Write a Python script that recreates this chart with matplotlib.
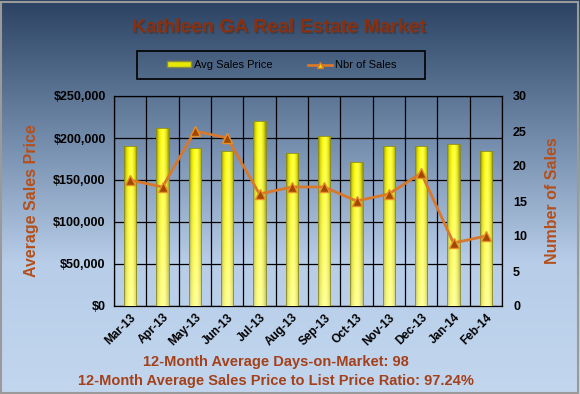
import numpy as np
import matplotlib
matplotlib.use("Agg")
import matplotlib.pyplot as plt
from matplotlib.colors import LinearSegmentedColormap
import matplotlib.patheffects as pe
from matplotlib.patches import Patch, Rectangle
from matplotlib.lines import Line2D

plt.rcParams['font.family'] = ['Liberation Sans', 'DejaVu Sans']

months = ["Mar-13", "Apr-13", "May-13", "Jun-13", "Jul-13", "Aug-13",
          "Sep-13", "Oct-13", "Nov-13", "Dec-13", "Jan-14", "Feb-14"]
avg_price = [190000, 211500, 188000, 185000, 220500, 182500,
             202500, 171000, 190500, 190000, 193000, 185000]
nbr_sales = [18, 17, 25, 24, 16, 17, 17, 15, 16, 19, 9, 10]
price_ticks = [0, 50000, 100000, 150000, 200000, 250000]
sales_ticks = [0, 5, 10, 15, 20, 25, 30]

title_color = "#8a3010"
label_color = "#b4501c"
text_color = "#a4401a"

W, H = 580, 394
fig = plt.figure(figsize=(5.8, 3.94), dpi=100)

# background gradient
bg = fig.add_axes([0, 0, 1, 1], zorder=0)
bg_cmap = LinearSegmentedColormap.from_list("bg", ["#2b4262", "#6f88a8", "#b7cde8", "#c2d6ee"])
grad = np.linspace(0, 1, 256).reshape(-1, 1)
bg.imshow(grad, aspect="auto", cmap=bg_cmap, extent=[0, 1, 0, 1], origin="upper")
bg.set_xlim(0, 1); bg.set_ylim(0, 1)
bg.axis("off")
bg.add_patch(Rectangle((0.002, 0.003), 0.994, 0.992, fill=False, edgecolor="#9a9a9a", lw=1.5,
                       transform=bg.transAxes))
# legend frame
bg.add_patch(Rectangle((137 / W, 1 - 79 / H), (425 - 137) / W, 28 / H, fill=False,
                       edgecolor="black", lw=1.2, transform=bg.transAxes))

L, R, B, T = 114 / W, 502 / W, 1 - 306 / H, 1 - 96 / H
ax = fig.add_axes([L, B, R - L, T - B], zorder=1)
ax.patch.set_alpha(0)
x = np.arange(len(months))
bars = ax.bar(x, avg_price, width=0.39, color="none", zorder=3)
bar_cmap = LinearSegmentedColormap.from_list(
    "bar", ["#7a7a08", "#e0e000", "#ffff10", "#ffff50", "#e8e800", "#909010"])
for b in bars:
    x0, w, h = b.get_x(), b.get_width(), b.get_height()
    hgrad = np.linspace(0, 1, 64).reshape(1, -1)
    img = ax.imshow(np.repeat(hgrad, 32, axis=0), cmap=bar_cmap, aspect="auto",
                    extent=[x0, x0 + w, 0, h], zorder=3, origin="lower")
    img.set_clip_path(b)
    vgrad = np.zeros((64, 1, 4))
    vgrad[..., :3] = 1.0
    vgrad[:, 0, 3] = np.linspace(0.5, 0.0, 64)
    img2 = ax.imshow(vgrad, aspect="auto", extent=[x0, x0 + w, 0, h], zorder=3.1, origin="lower")
    img2.set_clip_path(b)
    ax.add_patch(Rectangle((x0, 0), w, h, fill=False, edgecolor="#8a8a20", lw=0.6, zorder=3.2))

ax.set_xlim(-0.5, len(months) - 0.5)
ax.set_ylim(0, 250000)
ax.set_yticks(price_ticks)
ax.set_yticklabels(["${:,}".format(v) for v in price_ticks], fontsize=9, fontweight="bold")
ax.set_xticks(x)
ax.set_xticklabels(months, rotation=45, ha="right", rotation_mode="anchor",
                   fontsize=8.5, fontweight="bold")
ax.set_xticks(np.arange(-0.5, len(months), 1), minor=True)
ax.tick_params(axis="x", which="major", length=0, pad=4)
ax.tick_params(axis="x", which="minor", length=0)
ax.tick_params(axis="y", length=0, pad=6)
ax.grid(True, which="minor", axis="x", color="black", lw=0.9, zorder=1)
ax.grid(True, which="major", axis="y", color="black", lw=0.9, zorder=1)
for s in ax.spines.values():
    s.set_color("black"); s.set_linewidth(0.9)
ax.set_ylabel("Average Sales Price", color=label_color, fontsize=11.5, fontweight="bold", labelpad=10)

ax2 = ax.twinx()
ax2.set_ylim(0, 30)
ax2.set_yticks(sales_ticks)
ax2.set_yticklabels([str(v) for v in sales_ticks], fontsize=9, fontweight="bold")
ax2.tick_params(axis="y", length=0, pad=8)
ax2.plot(x, nbr_sales, color="#d8782a", lw=2, marker="^", markersize=7,
         markerfacecolor="#a04800", markeredgecolor="#e8902a", markeredgewidth=1, zorder=5)
ax2.set_ylabel("Number of Sales", color=label_color, fontsize=11.5, fontweight="bold", labelpad=13)
for s in ax2.spines.values():
    s.set_visible(False)

cx = 279 / W
fig.text(cx, 1 - 28 / H, "Kathleen GA Real Estate Market", ha="center", va="center",
         fontsize=14, fontweight="bold", color=title_color,
         path_effects=[pe.withSimplePatchShadow(offset=(1, -1), shadow_rgbFace="#303030", alpha=0.5)])

handles = [Patch(facecolor="#e8e800", edgecolor="#8a8a40"),
           Line2D([0], [0], color="#d8782a", lw=2, marker="^", markersize=5,
                  markerfacecolor="#e8e800", markeredgecolor="#d8782a")]
leg = fig.legend(handles, ["Avg Sales Price", "Nbr of Sales"], loc="center",
                 bbox_to_anchor=(282 / W, 1 - 65 / H), ncol=2, frameon=False,
                 fontsize=8, handlelength=2.1, handleheight=0.45, columnspacing=3.2,
                 borderpad=0.3, handletextpad=0.3)
for t in leg.get_texts():
    t.set_color("black")

fig.text(276 / W, 1 - 362 / H, "12-Month Average Days-on-Market: 98", ha="center", va="center",
         fontsize=10.5, fontweight="bold", color=text_color)
fig.text(276 / W, 1 - 381 / H, "12-Month Average Sales Price to List Price Ratio: 97.24%",
         ha="center", va="center", fontsize=10.5, fontweight="bold", color=text_color)

fig.savefig("out.png", dpi=100)
